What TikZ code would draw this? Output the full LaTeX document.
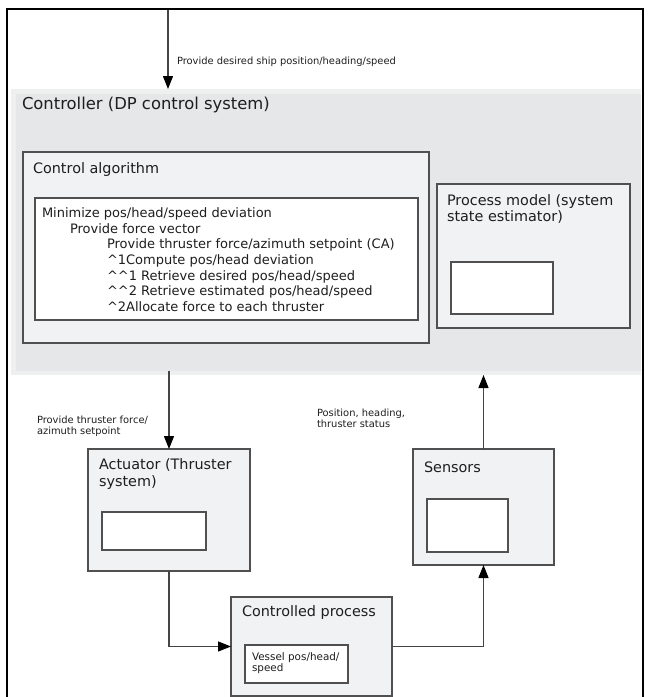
\documentclass[tikz,border=0pt]{standalone}
\usepackage{fontspec}
\setmainfont{DejaVu Sans}
\usetikzlibrary{arrows.meta}
\definecolor{ctrlband}{HTML}{EEEFEF}
\definecolor{ctrlfill}{HTML}{E6E7E8}
\definecolor{boxfill}{HTML}{F1F2F3}
\definecolor{boxline}{HTML}{505050}
\definecolor{txtclr}{HTML}{1E1E1E}
\definecolor{connclr}{HTML}{454545}
\begin{document}
\begin{tikzpicture}[x=1pt,y=-1pt,
  every node/.style={inner sep=0pt, outer sep=0pt},
  graybox/.style={draw=boxline, fill=boxfill, line width=1.2pt, rectangle},
  whitebox/.style={draw=boxline, fill=white, line width=1.2pt, rectangle},
  title/.style={anchor=west, text=txtclr, font=\fontsize{14.4}{16.5}\selectfont, align=left},
  small/.style={anchor=west, text=txtclr, font=\fontsize{9.9}{11}\selectfont, align=left},
  connline/.style={draw=connclr, line width=1.2pt},
  arr/.style={connline, -{Triangle[length=13pt,width=10pt,color=black]}},
]
\useasboundingbox (0,0) rectangle (649,697);
% outer frame
\draw[black, line width=2pt] (7,697) -- (7,9) -- (643,9) -- (643,697);

% controller region
\node[fill=ctrlband, minimum width=630pt, minimum height=286pt] (ctrl) at (326,232) {};
\fill[ctrlfill] (16,94) rectangle (641,371);
\node[title, font=\fontsize{16.4}{19}\selectfont] (ctrlT) at (22,105) {Controller (DP control system)};

% control algorithm
\node[graybox, minimum width=406pt, minimum height=191pt] (calg) at (226,247.5) {};
\node[title] (calgT) at (33,170) {Control algorithm};
\node[whitebox, minimum width=383pt, minimum height=122pt] (calgin) at (226.5,259) {};
\node[anchor=west, text=txtclr, align=left, font=\fontsize{13}{15.67}\selectfont] (calgtxt) at (42,259.6) {%
Minimize pos/head/speed deviation\\
\hspace*{28pt}Provide force vector\\
\hspace*{65pt}Provide thruster force/azimuth setpoint (CA)\\
\hspace*{65pt}\textasciicircum{}1Compute pos/head deviation\\
\hspace*{65pt}\textasciicircum{}\textasciicircum{}1 Retrieve desired pos/head/speed\\
\hspace*{65pt}\textasciicircum{}\textasciicircum{}2 Retrieve estimated pos/head/speed\\
\hspace*{65pt}\textasciicircum{}2Allocate force to each thruster};

% process model
\node[graybox, minimum width=193pt, minimum height=144pt] (pmodel) at (533.5,256) {};
\node[title] (pmodelT) at (447,209) {Process model (system\\state estimator)};
\node[whitebox, minimum width=102pt, minimum height=52pt] (pmin) at (502,288) {};

% actuator
\node[graybox, minimum width=162pt, minimum height=122pt] (act) at (169,510) {};
\node[title] (actT) at (99,474) {Actuator (Thruster\\system)};
\node[whitebox, minimum width=104pt, minimum height=38pt] (actin) at (154,531) {};

% sensors
\node[graybox, minimum width=141pt, minimum height=116pt] (sens) at (483.5,507) {};
\node[title] (sensT) at (424,467) {Sensors};
\node[whitebox, minimum width=81pt, minimum height=53pt] (sensin) at (467.5,525.5) {};

% controlled process
\node[graybox, minimum width=161pt, minimum height=99pt] (proc) at (311.5,646.5) {};
\node[title] (procT) at (242,613) {Controlled process};
\node[whitebox, minimum width=103pt, minimum height=38pt] (procin) at (296.5,664) {};
\node[small, font=\fontsize{10.4}{11}\selectfont] (procinT) at (252,663.5) {Vessel pos/head/\\speed};

% connectors
\coordinate (topin) at (168,10);
\draw[arr] (topin) -- (topin |- ctrl.north);
\node[small] (lblTop) at (177,62) {Provide desired ship position/heading/speed};

\draw[arr] (act.north |- 0,371) -- (act.north);
\node[small] (lblAct) at (37,426.5) {Provide thruster force/\\azimuth setpoint};

\draw[arr] (sens.north) -- (sens.north |- ctrl.south);
\node[small] (lblSens) at (317,418) {Position, heading,\\thruster status};

\draw[arr] (act.south) |- (proc.west);
\draw[arr] (proc.east) -| (sens.south);
\end{tikzpicture}
\end{document}
